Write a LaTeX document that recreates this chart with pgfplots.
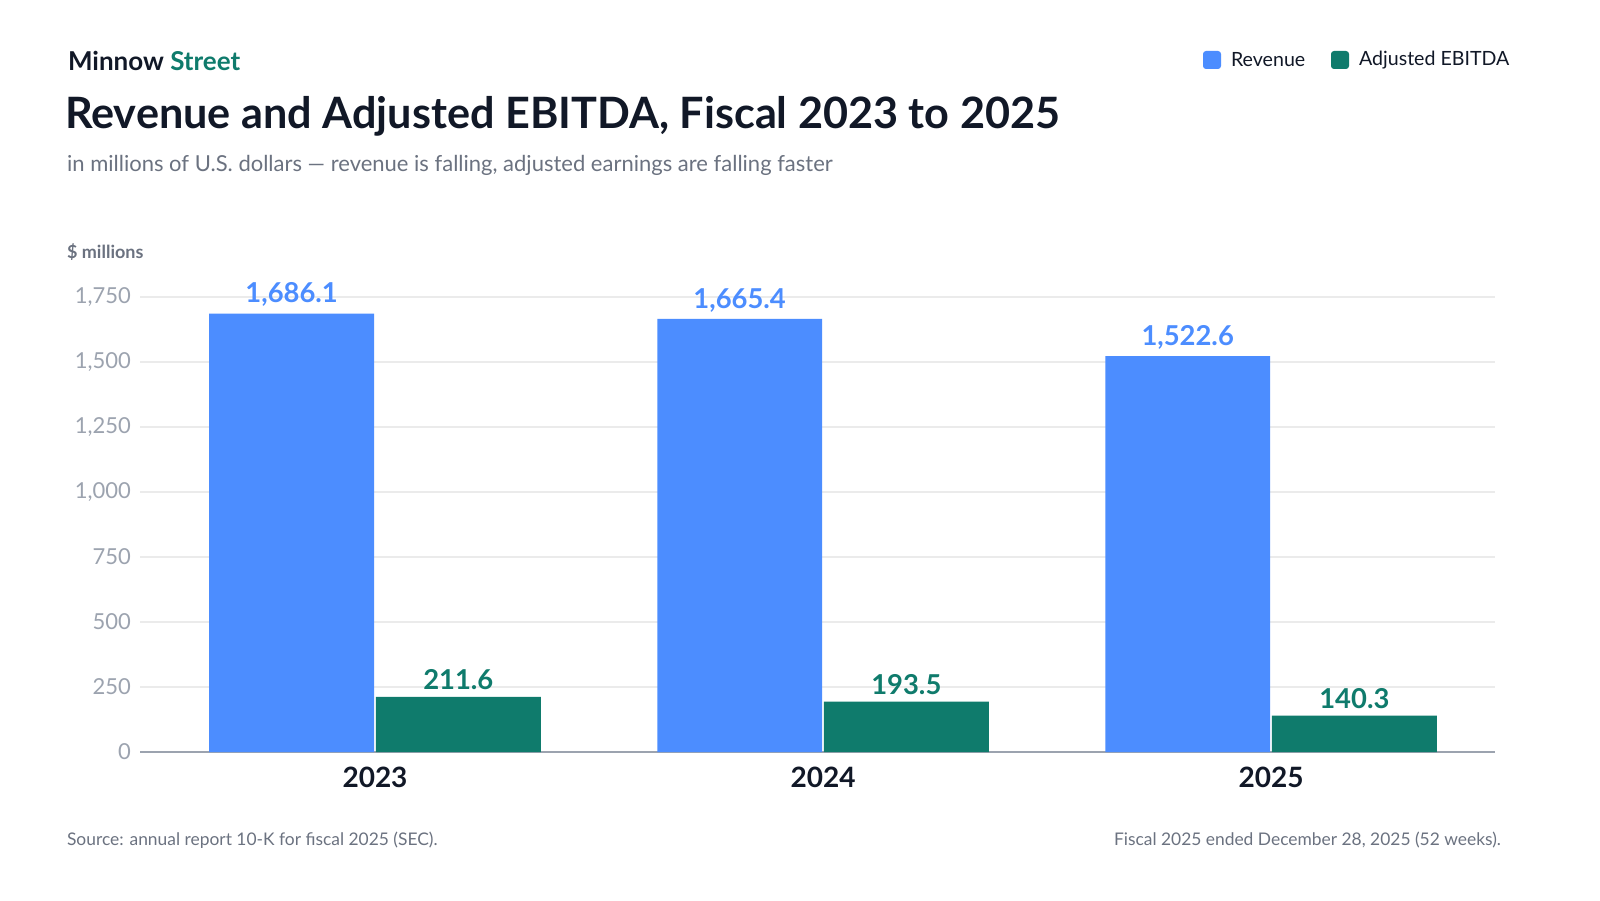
\documentclass[border=0pt]{standalone}
\usepackage{pgfplots}
\pgfplotsset{compat=1.18}
\usepackage{fontspec}
\setmainfont{Lato}
\definecolor{rev}{HTML}{4C8DFF}
\definecolor{ebi}{HTML}{0F7B6C}
\definecolor{ink}{HTML}{111827}
\definecolor{sub}{HTML}{6B7280}
\definecolor{tick}{HTML}{9CA3AF}
\begin{document}
\begin{tikzpicture}
\begin{scope}[x=0.5pt,y=0.5pt]
\path[fill=white] (0,0) rectangle (1600,900);
\node[anchor=west,font=\fontsize{13}{15}\selectfont\bfseries,text=ink] at (61,839) {Minnow \textcolor{ebi}{Street}};
\node[anchor=west,font=\fontsize{21.6}{25}\selectfont\bfseries,text=ink] at (58,784) {Revenue and Adjusted EBITDA, Fiscal 2023 to 2025};
\node[anchor=west,font=\fontsize{11}{13}\selectfont,text=sub] at (60,735) {in millions of U.S. dollars --- revenue is falling, adjusted earnings are falling faster};
\node[anchor=west,font=\fontsize{9}{11}\selectfont\bfseries,text=sub] at (60,648) {\$ millions};
\fill[rev,rounded corners=1.5pt] (1203,831) rectangle (1221,849);
\node[anchor=west,font=\fontsize{9.8}{12}\selectfont,text=ink] at (1224,840) {Revenue};
\fill[ebi,rounded corners=1.5pt] (1331,831) rectangle (1349,849);
\node[anchor=west,font=\fontsize{9.8}{12}\selectfont,text=ink] at (1352,840) {Adjusted EBITDA};
\node[anchor=west,font=\fontsize{8.7}{10}\selectfont,text=sub] at (60,60) {Source: annual report 10-K for fiscal 2025 (SEC).};
\node[anchor=east,font=\fontsize{8.7}{10}\selectfont,text=sub] at (1508,60) {Fiscal 2025 ended December 28, 2025 (52 weeks).};
\end{scope}
\begin{axis}[at={(187.5pt,74pt)},anchor=origin,scale only axis,width=677.5pt,height=227.5pt,
 ybar,ymin=0,ymax=1750,xmin=-0.5245,xmax=2.5,
 xtick={0,1,2},xticklabels={2023,2024,2025},
 ytick={0,250,...,1750},
 axis x line*=bottom,axis y line*=left,
 y axis line style={draw=none},
 ymajorgrids,grid style={draw=black!8,line width=0.6pt},
 x axis line style={draw=tick,line width=0.8pt,-},
 major tick length=0pt,
 /pgf/number format/assume math mode=true,
 /pgf/number format/1000 sep={,},
 xticklabel style={font=\fontsize{14}{16}\selectfont\bfseries,text=ink,yshift=-4pt},
 yticklabel style={font=\fontsize{11}{13}\selectfont,text=tick,xshift=-1pt},
 clip=false,
 nodes near coords,
 every node near coord/.append style={font=\fontsize{13.7}{16}\selectfont\bfseries,/pgf/number format/fixed,/pgf/number format/fixed zerofill,/pgf/number format/precision=1,/pgf/number format/1000 sep={,},/pgf/number format/assume math mode=true},
 bar width=0.368]
\addplot[fill=rev,draw=none,bar shift=-0.186,every node near coord/.append style={text=rev}] coordinates {(0,1686.1)(1,1665.4)(2,1522.6)};
\addplot[fill=ebi,draw=none,bar shift=0.186,every node near coord/.append style={text=ebi}] coordinates {(0,211.6)(1,193.5)(2,140.3)};
\end{axis}
\end{tikzpicture}
\end{document}
